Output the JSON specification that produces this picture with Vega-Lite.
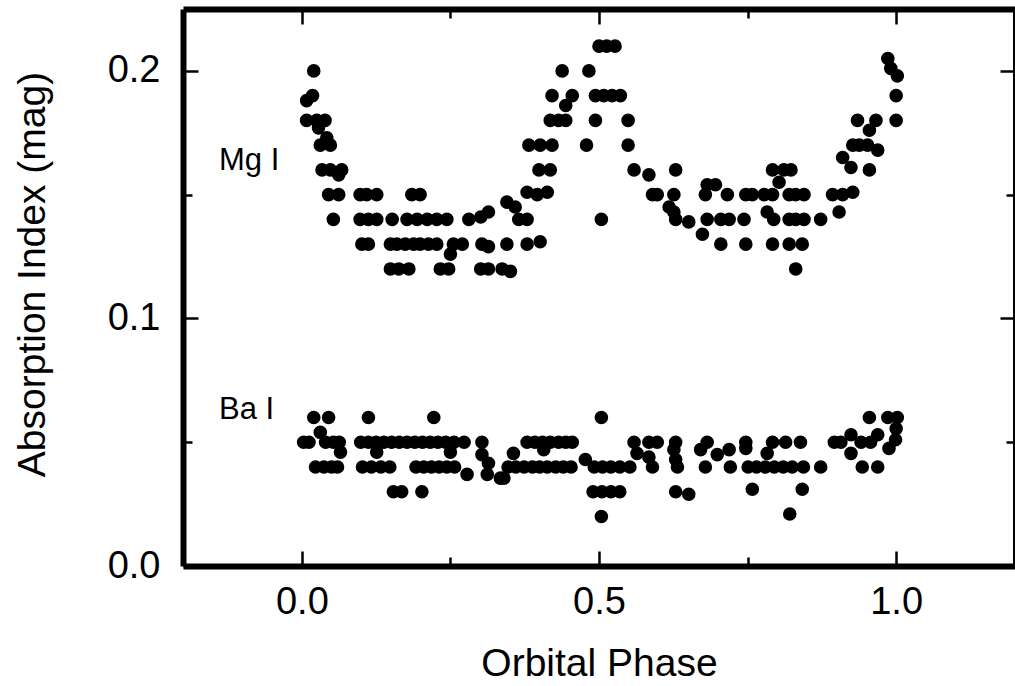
{
"$schema":"https://vega.github.io/schema/vega-lite/v6.json",
"width":832,"height":557,
"autosize":{"type":"none"},
"padding":{"left":183,"top":9,"right":0,"bottom":120},
"background":"white",
"config":{"view":{"stroke":null},"axis":{"grid":false,"labelFont":"Liberation Sans","titleFont":"Liberation Sans","labelFontSize":38,"titleFontSize":39,"labelColor":"black","titleColor":"black","titleFontWeight":"normal","tickColor":"black","domainColor":"black","tickWidth":2.5,"domainWidth":6,"labelOverlap":false,"labelFlush":false}},
"datasets":{
"pts":[
{"phase":0.020,"index":0.200,"line":"Mg I"},{"phase":0.018,"index":0.190,"line":"Mg I"},{"phase":0.008,"index":0.188,"line":"Mg I"},{"phase":0.008,"index":0.180,"line":"Mg I"},{"phase":0.025,"index":0.180,"line":"Mg I"},{"phase":0.039,"index":0.180,"line":"Mg I"},{"phase":0.028,"index":0.177,"line":"Mg I"},{"phase":0.042,"index":0.173,"line":"Mg I"},{"phase":0.031,"index":0.170,"line":"Mg I"},{"phase":0.048,"index":0.170,"line":"Mg I"},
{"phase":0.034,"index":0.160,"line":"Mg I"},{"phase":0.048,"index":0.160,"line":"Mg I"},{"phase":0.067,"index":0.160,"line":"Mg I"},{"phase":0.062,"index":0.158,"line":"Mg I"},{"phase":0.045,"index":0.150,"line":"Mg I"},{"phase":0.062,"index":0.150,"line":"Mg I"},{"phase":0.098,"index":0.150,"line":"Mg I"},{"phase":0.109,"index":0.150,"line":"Mg I"},{"phase":0.126,"index":0.150,"line":"Mg I"},{"phase":0.185,"index":0.150,"line":"Mg I"},
{"phase":0.199,"index":0.150,"line":"Mg I"},{"phase":0.053,"index":0.140,"line":"Mg I"},{"phase":0.098,"index":0.140,"line":"Mg I"},{"phase":0.112,"index":0.140,"line":"Mg I"},{"phase":0.126,"index":0.140,"line":"Mg I"},{"phase":0.152,"index":0.140,"line":"Mg I"},{"phase":0.177,"index":0.140,"line":"Mg I"},{"phase":0.194,"index":0.140,"line":"Mg I"},{"phase":0.211,"index":0.140,"line":"Mg I"},{"phase":0.227,"index":0.140,"line":"Mg I"},
{"phase":0.244,"index":0.140,"line":"Mg I"},{"phase":0.281,"index":0.140,"line":"Mg I"},{"phase":0.301,"index":0.141,"line":"Mg I"},{"phase":0.314,"index":0.143,"line":"Mg I"},{"phase":0.345,"index":0.147,"line":"Mg I"},{"phase":0.359,"index":0.145,"line":"Mg I"},{"phase":0.365,"index":0.140,"line":"Mg I"},{"phase":0.379,"index":0.140,"line":"Mg I"},{"phase":0.101,"index":0.130,"line":"Mg I"},{"phase":0.112,"index":0.130,"line":"Mg I"},
{"phase":0.149,"index":0.130,"line":"Mg I"},{"phase":0.160,"index":0.130,"line":"Mg I"},{"phase":0.174,"index":0.130,"line":"Mg I"},{"phase":0.188,"index":0.130,"line":"Mg I"},{"phase":0.199,"index":0.130,"line":"Mg I"},{"phase":0.213,"index":0.130,"line":"Mg I"},{"phase":0.227,"index":0.130,"line":"Mg I"},{"phase":0.255,"index":0.130,"line":"Mg I"},{"phase":0.270,"index":0.130,"line":"Mg I"},{"phase":0.303,"index":0.130,"line":"Mg I"},
{"phase":0.314,"index":0.129,"line":"Mg I"},{"phase":0.345,"index":0.130,"line":"Mg I"},{"phase":0.379,"index":0.130,"line":"Mg I"},{"phase":0.401,"index":0.131,"line":"Mg I"},{"phase":0.250,"index":0.126,"line":"Mg I"},{"phase":0.149,"index":0.120,"line":"Mg I"},{"phase":0.163,"index":0.120,"line":"Mg I"},{"phase":0.180,"index":0.120,"line":"Mg I"},{"phase":0.233,"index":0.120,"line":"Mg I"},{"phase":0.247,"index":0.120,"line":"Mg I"},
{"phase":0.301,"index":0.120,"line":"Mg I"},{"phase":0.314,"index":0.120,"line":"Mg I"},{"phase":0.337,"index":0.120,"line":"Mg I"},{"phase":0.351,"index":0.119,"line":"Mg I"},{"phase":0.382,"index":0.170,"line":"Mg I"},{"phase":0.379,"index":0.151,"line":"Mg I"},{"phase":0.396,"index":0.150,"line":"Mg I"},{"phase":0.413,"index":0.151,"line":"Mg I"},{"phase":0.401,"index":0.170,"line":"Mg I"},{"phase":0.421,"index":0.170,"line":"Mg I"},
{"phase":0.479,"index":0.170,"line":"Mg I"},{"phase":0.549,"index":0.170,"line":"Mg I"},{"phase":0.399,"index":0.160,"line":"Mg I"},{"phase":0.418,"index":0.160,"line":"Mg I"},{"phase":0.559,"index":0.160,"line":"Mg I"},{"phase":0.584,"index":0.158,"line":"Mg I"},{"phase":0.629,"index":0.160,"line":"Mg I"},{"phase":0.418,"index":0.180,"line":"Mg I"},{"phase":0.432,"index":0.180,"line":"Mg I"},{"phase":0.444,"index":0.180,"line":"Mg I"},
{"phase":0.494,"index":0.180,"line":"Mg I"},{"phase":0.549,"index":0.180,"line":"Mg I"},{"phase":0.421,"index":0.190,"line":"Mg I"},{"phase":0.455,"index":0.190,"line":"Mg I"},{"phase":0.444,"index":0.186,"line":"Mg I"},{"phase":0.494,"index":0.190,"line":"Mg I"},{"phase":0.508,"index":0.190,"line":"Mg I"},{"phase":0.522,"index":0.190,"line":"Mg I"},{"phase":0.536,"index":0.190,"line":"Mg I"},{"phase":0.438,"index":0.200,"line":"Mg I"},
{"phase":0.483,"index":0.200,"line":"Mg I"},{"phase":0.500,"index":0.210,"line":"Mg I"},{"phase":0.513,"index":0.210,"line":"Mg I"},{"phase":0.527,"index":0.210,"line":"Mg I"},{"phase":0.504,"index":0.140,"line":"Mg I"},{"phase":0.590,"index":0.150,"line":"Mg I"},{"phase":0.598,"index":0.150,"line":"Mg I"},{"phase":0.626,"index":0.150,"line":"Mg I"},{"phase":0.682,"index":0.154,"line":"Mg I"},{"phase":0.696,"index":0.154,"line":"Mg I"},
{"phase":0.679,"index":0.150,"line":"Mg I"},{"phase":0.716,"index":0.150,"line":"Mg I"},{"phase":0.747,"index":0.150,"line":"Mg I"},{"phase":0.618,"index":0.145,"line":"Mg I"},{"phase":0.626,"index":0.143,"line":"Mg I"},{"phase":0.629,"index":0.140,"line":"Mg I"},{"phase":0.651,"index":0.139,"line":"Mg I"},{"phase":0.682,"index":0.140,"line":"Mg I"},{"phase":0.705,"index":0.140,"line":"Mg I"},{"phase":0.719,"index":0.140,"line":"Mg I"},
{"phase":0.744,"index":0.140,"line":"Mg I"},{"phase":0.674,"index":0.134,"line":"Mg I"},{"phase":0.705,"index":0.130,"line":"Mg I"},{"phase":0.747,"index":0.130,"line":"Mg I"},{"phase":0.758,"index":0.150,"line":"Mg I"},{"phase":0.778,"index":0.150,"line":"Mg I"},{"phase":0.792,"index":0.150,"line":"Mg I"},{"phase":0.820,"index":0.150,"line":"Mg I"},{"phase":0.831,"index":0.150,"line":"Mg I"},{"phase":0.845,"index":0.150,"line":"Mg I"},
{"phase":0.792,"index":0.160,"line":"Mg I"},{"phase":0.811,"index":0.160,"line":"Mg I"},{"phase":0.823,"index":0.160,"line":"Mg I"},{"phase":0.803,"index":0.155,"line":"Mg I"},{"phase":0.783,"index":0.143,"line":"Mg I"},{"phase":0.794,"index":0.140,"line":"Mg I"},{"phase":0.820,"index":0.140,"line":"Mg I"},{"phase":0.831,"index":0.140,"line":"Mg I"},{"phase":0.845,"index":0.140,"line":"Mg I"},{"phase":0.792,"index":0.130,"line":"Mg I"},
{"phase":0.820,"index":0.130,"line":"Mg I"},{"phase":0.842,"index":0.130,"line":"Mg I"},{"phase":0.831,"index":0.120,"line":"Mg I"},{"phase":0.873,"index":0.140,"line":"Mg I"},{"phase":0.893,"index":0.150,"line":"Mg I"},{"phase":0.910,"index":0.150,"line":"Mg I"},{"phase":0.927,"index":0.151,"line":"Mg I"},{"phase":0.904,"index":0.143,"line":"Mg I"},{"phase":0.910,"index":0.165,"line":"Mg I"},{"phase":0.924,"index":0.161,"line":"Mg I"},
{"phase":0.955,"index":0.160,"line":"Mg I"},{"phase":0.927,"index":0.170,"line":"Mg I"},{"phase":0.938,"index":0.170,"line":"Mg I"},{"phase":0.952,"index":0.170,"line":"Mg I"},{"phase":0.969,"index":0.168,"line":"Mg I"},{"phase":0.935,"index":0.180,"line":"Mg I"},{"phase":0.955,"index":0.176,"line":"Mg I"},{"phase":0.966,"index":0.180,"line":"Mg I"},{"phase":0.986,"index":0.205,"line":"Mg I"},{"phase":0.991,"index":0.201,"line":"Mg I"},
{"phase":1.002,"index":0.198,"line":"Mg I"},{"phase":1.000,"index":0.190,"line":"Mg I"},{"phase":1.000,"index":0.180,"line":"Mg I"},
{"phase":0.020,"index":0.060,"line":"Ba I"},{"phase":0.045,"index":0.060,"line":"Ba I"},{"phase":0.112,"index":0.060,"line":"Ba I"},{"phase":0.222,"index":0.060,"line":"Ba I"},{"phase":0.504,"index":0.060,"line":"Ba I"},{"phase":0.955,"index":0.060,"line":"Ba I"},{"phase":0.986,"index":0.060,"line":"Ba I"},{"phase":1.002,"index":0.060,"line":"Ba I"},
{"phase":0.031,"index":0.054,"line":"Ba I"},{"phase":1.000,"index":0.0555,"line":"Ba I"},{"phase":0.924,"index":0.053,"line":"Ba I"},{"phase":0.969,"index":0.053,"line":"Ba I"},
{"phase":0.003,"index":0.050,"line":"Ba I"},{"phase":0.012,"index":0.050,"line":"Ba I"},{"phase":0.040,"index":0.050,"line":"Ba I"},{"phase":0.053,"index":0.050,"line":"Ba I"},{"phase":0.063,"index":0.050,"line":"Ba I"},{"phase":0.099,"index":0.050,"line":"Ba I"},{"phase":0.112,"index":0.050,"line":"Ba I"},{"phase":0.125,"index":0.050,"line":"Ba I"},{"phase":0.138,"index":0.050,"line":"Ba I"},{"phase":0.151,"index":0.050,"line":"Ba I"},{"phase":0.164,"index":0.050,"line":"Ba I"},
{"phase":0.177,"index":0.050,"line":"Ba I"},{"phase":0.190,"index":0.050,"line":"Ba I"},{"phase":0.203,"index":0.050,"line":"Ba I"},{"phase":0.216,"index":0.050,"line":"Ba I"},{"phase":0.229,"index":0.050,"line":"Ba I"},{"phase":0.242,"index":0.050,"line":"Ba I"},{"phase":0.256,"index":0.050,"line":"Ba I"},{"phase":0.273,"index":0.050,"line":"Ba I"},{"phase":0.303,"index":0.050,"line":"Ba I"},{"phase":0.379,"index":0.050,"line":"Ba I"},
{"phase":0.392,"index":0.050,"line":"Ba I"},{"phase":0.405,"index":0.050,"line":"Ba I"},{"phase":0.418,"index":0.050,"line":"Ba I"},{"phase":0.432,"index":0.050,"line":"Ba I"},{"phase":0.444,"index":0.050,"line":"Ba I"},{"phase":0.455,"index":0.050,"line":"Ba I"},{"phase":0.559,"index":0.050,"line":"Ba I"},{"phase":0.584,"index":0.050,"line":"Ba I"},{"phase":0.598,"index":0.050,"line":"Ba I"},{"phase":0.629,"index":0.050,"line":"Ba I"},
{"phase":0.682,"index":0.050,"line":"Ba I"},{"phase":0.747,"index":0.050,"line":"Ba I"},{"phase":0.792,"index":0.050,"line":"Ba I"},{"phase":0.814,"index":0.050,"line":"Ba I"},{"phase":0.839,"index":0.050,"line":"Ba I"},{"phase":0.896,"index":0.050,"line":"Ba I"},{"phase":0.907,"index":0.050,"line":"Ba I"},{"phase":0.941,"index":0.050,"line":"Ba I"},{"phase":0.957,"index":0.050,"line":"Ba I"},
{"phase":0.065,"index":0.046,"line":"Ba I"},{"phase":0.126,"index":0.046,"line":"Ba I"},{"phase":0.250,"index":0.046,"line":"Ba I"},{"phase":0.303,"index":0.045,"line":"Ba I"},{"phase":0.356,"index":0.0455,"line":"Ba I"},{"phase":0.407,"index":0.047,"line":"Ba I"},{"phase":0.564,"index":0.0455,"line":"Ba I"},{"phase":0.584,"index":0.044,"line":"Ba I"},{"phase":0.626,"index":0.047,"line":"Ba I"},{"phase":0.671,"index":0.047,"line":"Ba I"},
{"phase":0.699,"index":0.045,"line":"Ba I"},{"phase":0.719,"index":0.047,"line":"Ba I"},{"phase":0.747,"index":0.0475,"line":"Ba I"},{"phase":0.783,"index":0.0455,"line":"Ba I"},{"phase":0.924,"index":0.0455,"line":"Ba I"},{"phase":0.988,"index":0.0475,"line":"Ba I"},{"phase":0.999,"index":0.051,"line":"Ba I"},{"phase":0.477,"index":0.043,"line":"Ba I"},{"phase":0.629,"index":0.043,"line":"Ba I"},{"phase":0.314,"index":0.0415,"line":"Ba I"},
{"phase":0.023,"index":0.040,"line":"Ba I"},{"phase":0.037,"index":0.040,"line":"Ba I"},{"phase":0.050,"index":0.040,"line":"Ba I"},{"phase":0.060,"index":0.040,"line":"Ba I"},{"phase":0.102,"index":0.040,"line":"Ba I"},{"phase":0.117,"index":0.040,"line":"Ba I"},{"phase":0.133,"index":0.040,"line":"Ba I"},{"phase":0.148,"index":0.040,"line":"Ba I"},{"phase":0.192,"index":0.040,"line":"Ba I"},{"phase":0.205,"index":0.040,"line":"Ba I"},
{"phase":0.218,"index":0.040,"line":"Ba I"},{"phase":0.231,"index":0.040,"line":"Ba I"},{"phase":0.244,"index":0.040,"line":"Ba I"},{"phase":0.257,"index":0.040,"line":"Ba I"},{"phase":0.347,"index":0.040,"line":"Ba I"},{"phase":0.360,"index":0.040,"line":"Ba I"},{"phase":0.374,"index":0.040,"line":"Ba I"},{"phase":0.388,"index":0.040,"line":"Ba I"},{"phase":0.400,"index":0.040,"line":"Ba I"},{"phase":0.413,"index":0.040,"line":"Ba I"},
{"phase":0.427,"index":0.040,"line":"Ba I"},{"phase":0.440,"index":0.040,"line":"Ba I"},{"phase":0.453,"index":0.040,"line":"Ba I"},{"phase":0.492,"index":0.040,"line":"Ba I"},{"phase":0.506,"index":0.040,"line":"Ba I"},{"phase":0.520,"index":0.040,"line":"Ba I"},{"phase":0.535,"index":0.040,"line":"Ba I"},{"phase":0.552,"index":0.040,"line":"Ba I"},{"phase":0.590,"index":0.040,"line":"Ba I"},{"phase":0.632,"index":0.040,"line":"Ba I"},
{"phase":0.679,"index":0.040,"line":"Ba I"},{"phase":0.721,"index":0.040,"line":"Ba I"},{"phase":0.751,"index":0.040,"line":"Ba I"},{"phase":0.765,"index":0.040,"line":"Ba I"},{"phase":0.780,"index":0.040,"line":"Ba I"},{"phase":0.795,"index":0.040,"line":"Ba I"},{"phase":0.810,"index":0.040,"line":"Ba I"},{"phase":0.825,"index":0.040,"line":"Ba I"},{"phase":0.844,"index":0.040,"line":"Ba I"},{"phase":0.873,"index":0.040,"line":"Ba I"},
{"phase":0.943,"index":0.040,"line":"Ba I"},{"phase":0.969,"index":0.040,"line":"Ba I"},
{"phase":0.278,"index":0.037,"line":"Ba I"},{"phase":0.312,"index":0.037,"line":"Ba I"},{"phase":0.334,"index":0.0355,"line":"Ba I"},{"phase":0.340,"index":0.0355,"line":"Ba I"},
{"phase":0.154,"index":0.030,"line":"Ba I"},{"phase":0.168,"index":0.030,"line":"Ba I"},{"phase":0.202,"index":0.030,"line":"Ba I"},{"phase":0.490,"index":0.030,"line":"Ba I"},{"phase":0.505,"index":0.030,"line":"Ba I"},{"phase":0.520,"index":0.030,"line":"Ba I"},{"phase":0.535,"index":0.030,"line":"Ba I"},{"phase":0.629,"index":0.030,"line":"Ba I"},{"phase":0.651,"index":0.029,"line":"Ba I"},{"phase":0.758,"index":0.031,"line":"Ba I"},
{"phase":0.842,"index":0.031,"line":"Ba I"},{"phase":0.504,"index":0.020,"line":"Ba I"},{"phase":0.821,"index":0.021,"line":"Ba I"}
],
"labels":[{"phase":-0.1395,"index":0.16,"label":"Mg I"},{"phase":-0.1395,"index":0.0595,"label":"Ba I"}]
},
"layer":[
{"data":{"name":"pts"},
 "mark":{"type":"circle","size":185,"color":"black","opacity":1},
 "encoding":{
  "x":{"field":"phase","type":"quantitative","scale":{"domain":[-0.2,1.2],"nice":false,"zero":false},
       "axis":{"orient":"bottom","values":[0,0.5,1],"format":".1f","tickSize":-15,"labelPadding":62,"labelBaseline":"alphabetic","title":"Orbital Phase","titleBaseline":"alphabetic","titleY":109,"domainWidth":6}},
  "y":{"field":"index","type":"quantitative","scale":{"domain":[0,0.225],"nice":false,"zero":false},
       "axis":{"orient":"left","values":[0,0.1,0.2],"format":".1f","tickSize":-15,"labelPadding":38,"title":"Absorption Index (mag)","titleX":-139,"titleY":265,"titleBaseline":"alphabetic","titleAlign":"center","titleAngle":270,"domainWidth":6}}
 }},
{"data":{"name":"labels"},
 "mark":{"type":"point","opacity":0},
 "encoding":{
  "x":{"field":"phase","type":"quantitative","scale":{"domain":[-0.2,1.2],"nice":false,"zero":false},
       "axis":{"orient":"top","values":[0,0.5,1],"tickSize":-15,"labels":false,"title":null,"domainWidth":6}},
  "y":{"field":"index","type":"quantitative","scale":{"domain":[0,0.225],"nice":false,"zero":false},
       "axis":{"orient":"right","values":[0,0.1,0.2],"tickSize":-15,"labels":false,"title":null,"domainWidth":5}}
 }},
{"data":{"name":"labels"},
 "mark":{"type":"point","opacity":0},
 "encoding":{
  "x":{"field":"phase","type":"quantitative","scale":{"domain":[-0.2,1.2],"nice":false,"zero":false},
       "axis":{"orient":"bottom","values":[0.25,0.75],"tickSize":-9,"labels":false,"domain":false,"title":null}},
  "y":{"field":"index","type":"quantitative","scale":{"domain":[0,0.225],"nice":false,"zero":false},
       "axis":{"orient":"left","values":[0.05,0.15],"tickSize":-9,"labels":false,"domain":false,"title":null}}
 }},
{"data":{"name":"labels"},
 "mark":{"type":"point","opacity":0},
 "encoding":{
  "x":{"field":"phase","type":"quantitative","scale":{"domain":[-0.2,1.2],"nice":false,"zero":false},
       "axis":{"orient":"top","values":[0.25,0.75],"tickSize":-9,"labels":false,"domain":false,"title":null}},
  "y":{"field":"index","type":"quantitative","scale":{"domain":[0,0.225],"nice":false,"zero":false},
       "axis":{"orient":"right","values":[0.05,0.15],"tickSize":-9,"labels":false,"domain":false,"title":null}}
 }},
{"data":{"name":"labels"},
 "mark":{"type":"text","align":"left","baseline":"alphabetic","font":"Liberation Sans","fontSize":31,"color":"black"},
 "encoding":{
  "x":{"field":"phase","type":"quantitative","axis":null},
  "y":{"field":"index","type":"quantitative","axis":null},
  "text":{"field":"label"}
 }}
],
"resolve":{"axis":{"x":"independent","y":"independent"}}
}
